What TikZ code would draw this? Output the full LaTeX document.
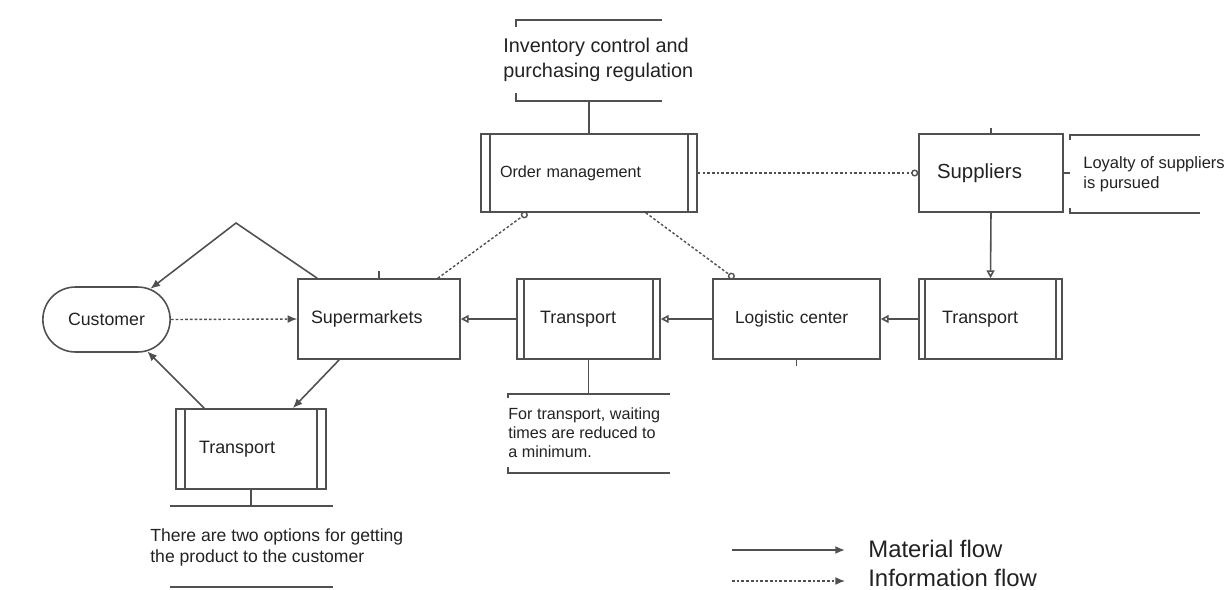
\documentclass[tikz,border=0pt]{standalone}
\usepackage{fontspec}
\setmainfont{Liberation Sans}
\usetikzlibrary{arrows.meta, calc, shapes.misc}
\definecolor{linegray}{HTML}{505050}
\definecolor{txtgray}{HTML}{222222}

\begin{document}
\begin{tikzpicture}[
    x=0.02cm, y=-0.02cm,
    box/.style={rectangle, draw=linegray, line width=0.9pt, minimum height=1.6cm, align=left, inner ysep=0pt, text=txtgray, font=\fontsize{10.2}{12}\selectfont},
    term/.style={rounded rectangle, draw=linegray, line width=0.9pt, minimum width=2.78cm, minimum height=1.3cm, text=txtgray, font=\fontsize{10.1}{12}\selectfont},
    note/.style={align=left, inner sep=0pt, text=txtgray},
    brk/.style={draw=linegray, line width=0.9pt},
    mat/.style={draw=linegray, line width=0.9pt, -{Latex[length=5.5pt,width=4.5pt]}},
    matopen/.style={draw=linegray, line width=0.9pt, -{Triangle[open,length=4.5pt,width=4.5pt]}},
    info/.style={draw=linegray, line width=0.8pt, dash pattern=on 1.5pt off 1.2pt},
    circ/.style={-{Circle[open,length=4pt]}}
  ]
    \useasboundingbox (0,0) rectangle (1232,589);

    % --- Top row ---
    \node[box, minimum height=1.56cm, text width=3.56cm, inner xsep=0.38cm, font=\fontsize{9.2}{11}\selectfont] (om) at (589,173) {Order management};
    \node[box, minimum height=1.56cm, text width=2.16cm, inner xsep=0.36cm, font=\fontsize{11.6}{14}\selectfont] (sup) at (991,173) {Suppliers};

    % --- Main row ---
    \node[term] (cust) at (106.5,319.5) {Customer};
    \node[box, text width=2.72cm, inner xsep=0.26cm] (sm) at (379,319) {Supermarkets};
    \node[box, text width=1.94cm, inner xsep=0.46cm] (tr2) at (588.5,319) {Transport};
    \node[box, text width=2.46cm, inner xsep=0.44cm, font=\fontsize{9.9}{12}\selectfont] (lc) at (796.5,319) {Logistic center};
    \node[box, text width=1.94cm, inner xsep=0.46cm] (tr1) at (990.5,319) {Transport};
    \node[box, text width=2.08cm, inner xsep=0.46cm] (tr3) at (251,449) {Transport};

    % double side lines
    \foreach \n/\d in {om/0.19, tr1/0.14, tr2/0.15, tr3/0.2} {
      \draw[brk] ([xshift=\d cm]\n.north west) -- ([xshift=\d cm]\n.south west);
      \draw[brk] ([xshift=-\d cm]\n.north east) -- ([xshift=-\d cm]\n.south east);
    }

    % small ticks
    \draw[brk] (sup.north) -- ++(0,-5);
    \draw[brk] (sm.north) -- ++(0,-7);
    \draw[brk] (lc.south) -- ++(0,6);

    % --- Notes ---
    \node[note, anchor=west, font=\fontsize{11.3}{14.2}\selectfont] (inv) at (503,60) {Inventory control and\\purchasing regulation};
    \coordinate (invb) at ($(inv.west)+(13,41)$);
    \draw[brk] ($(invb)+(0,-8)$) -- (invb) -- ++(146,0);
    \draw[brk] ($(invb)+(0,-74)$) -- ++(0,-7) -- ++(146,0);
    \draw[brk] (om.north) -- (om.north |- invb);

    \node[note, anchor=west, font=\fontsize{9.4}{11.3}\selectfont] (loy) at (1083,174) {Loyalty of suppliers\\is pursued};
    \coordinate (loyt) at ($(loy.west)+(-13,-39)$);
    \draw[brk] ($(loyt)+(0,5)$) -- (loyt) -- ++(130,0);
    \draw[brk] ($(loyt)+(0,73)$) -- ++(0,5) -- ++(130,0);
    \draw[brk] (sup.east) -- (sup.east -| loyt);

    \node[note, anchor=west, font=\fontsize{9.2}{10.8}\selectfont] (wait) at (508,433) {For transport, waiting\\times are reduced to\\a minimum.};
    \coordinate (waitt) at ($(wait.west)+(0,-39)$);
    \draw[brk] ($(waitt)+(0,4)$) -- (waitt) -- ++(162,0);
    \draw[brk] ($(waitt)+(0,73)$) -- ++(0,6) -- ++(162,0);
    \draw[brk] (tr2.south) -- (tr2.south |- waitt);

    \node[note, anchor=west, font=\fontsize{10}{11.9}\selectfont] (opt) at (150,547) {There are two options for getting\\the product to the customer};
    \coordinate (optt) at ($(opt.west)+(20,-41)$);
    \draw[brk] (optt) -- ++(163,0);
    \draw[brk] ($(optt)+(0,81)$) -- ++(163,0);
    \draw[brk] (tr3.south) -- (tr3.south |- optt);

    % --- Information flow ---
    \draw[info, circ] (om.east) -- (sup.west);
    \draw[info, circ] ([xshift=-0.46cm]sm.north east) -- ([xshift=0.94cm]om.south west);
    \draw[info, circ] ([xshift=-1.04cm]om.south east) -- ([xshift=0.44cm]lc.north west);
    \draw[info, -{Latex[length=5.5pt,width=4.5pt]}] (cust.east) -- (sm.west);

    % --- Material flow ---
    \draw[matopen] (sup.south) -- (tr1.north);
    \draw[matopen] (tr1.west) -- (lc.east);
    \draw[matopen] (lc.west) -- (tr2.east);
    \draw[matopen] (tr2.west) -- (sm.east);
    \coordinate (apex) at (236,223);
    \draw[mat] ([xshift=0.4cm]sm.north west) -- (apex) -- (cust.35);
    \draw[mat] ([xshift=0.84cm]sm.south west) -- ([xshift=-0.68cm]tr3.north east);
    \draw[mat] ([xshift=0.58cm]tr3.north west) -- (cust.-38);

    % --- Legend ---
    \coordinate (mf1) at (732,550);
    \coordinate (mf2) at (845,550);
    \coordinate (if1) at (732,581);
    \coordinate (if2) at (845,581);
    \draw[mat] (mf1) -- (mf2);
    \draw[info, -{Latex[length=5.5pt,width=4.5pt]}] (if1) -- (if2);
    \node[note, anchor=west, font=\fontsize{13.6}{16}\selectfont] (mflab) at (868,549) {Material flow};
    \node[note, anchor=west, font=\fontsize{13.6}{16}\selectfont] (iflab) at (868,578) {Information flow};

  \end{tikzpicture}
\end{document}
